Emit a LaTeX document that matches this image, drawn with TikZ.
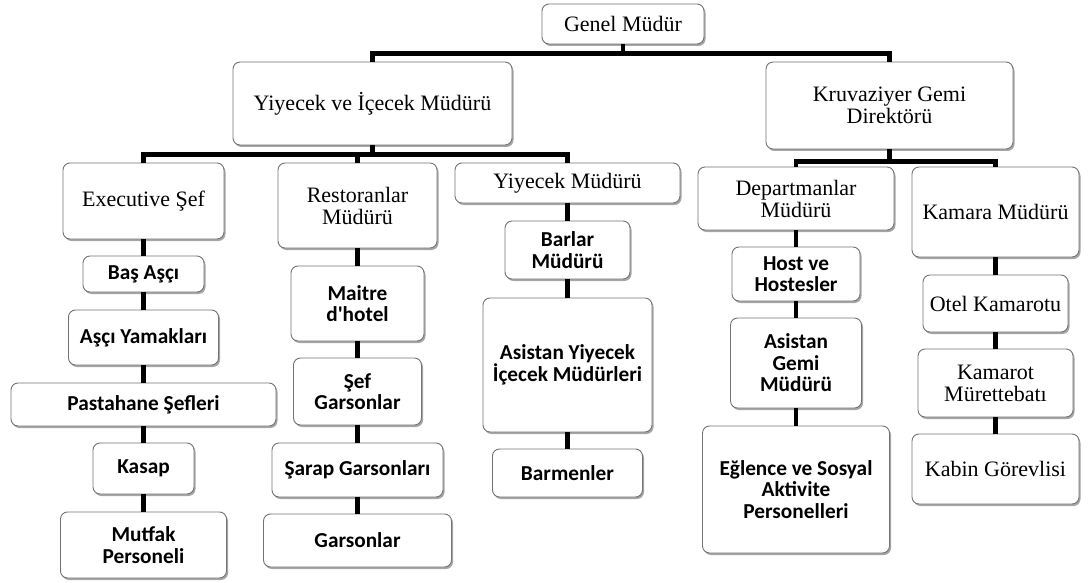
\documentclass[tikz,border=0pt]{standalone}
\usepackage{fontspec}
\setmainfont{Liberation Serif}
\newfontfamily\calib{Carlito}
\usetikzlibrary{shadows}
\tikzset{
  base/.style={draw=black!55, line width=0.9pt, fill=white, rounded corners=7pt, inner sep=0pt, align=center,
    drop shadow={shadow xshift=1.5pt, shadow yshift=-2pt, opacity=.35, fill=black}},
  sbox/.style={base, font=\fontsize{22}{22}\selectfont},
  bbox/.style={base, font=\calib\bfseries\fontsize{21.3}{21.5}\selectfont},
  conn/.style={draw=black, line width=4.5pt}
}
\begin{document}
\begin{tikzpicture}[x=1pt, y=-1pt]
\useasboundingbox (0,0) rectangle (1090,583);
% level 0/1
\node[sbox, minimum width=162pt, minimum height=40pt] (gm) at (623,24) {Genel Müdür};
\node[sbox, minimum width=279pt, minimum height=83pt] (yim) at (372.5,103.5) {Yiyecek ve İçecek Müdürü};
\node[sbox, minimum width=247pt, minimum height=87pt] (kgd) at (889.5,105.5) {Kruvaziyer Gemi\\Direktörü};
% level 2
\node[sbox, minimum width=161pt, minimum height=76pt] (es) at (143.5,201) {Executive Şef};
\node[sbox, minimum width=159pt, minimum height=85pt] (rm) at (357.5,205.5) {Restoranlar\\Müdürü};
\node[sbox, minimum width=225pt, minimum height=40pt] (ym) at (567.5,183) {Yiyecek Müdürü};
\node[sbox, minimum width=196pt, minimum height=63pt] (dm) at (796,198.5) {Departmanlar\\Müdürü};
\node[sbox, minimum width=167pt, minimum height=90pt] (km) at (995.5,212) {Kamara Müdürü};
% column 1
\node[bbox, minimum width=121pt, minimum height=36pt] (ba) at (143.5,274) {Baş Aşçı};
\node[bbox, minimum width=150pt, minimum height=55pt] (ay) at (143.5,337.5) {Aşçı Yamakları};
\node[bbox, minimum width=265pt, minimum height=43pt] (ps) at (143.5,404.5) {Pastahane Şefleri};
\node[bbox, minimum width=101pt, minimum height=51pt] (ks) at (143.5,468.5) {Kasap};
\node[bbox, minimum width=166pt, minimum height=66pt] (mp) at (143.5,545) {Mutfak\\Personeli};
% column 2
\node[bbox, minimum width=133pt, minimum height=75pt] (md) at (357.5,303.5) {Maitre\\d\textquotesingle hotel};
\node[bbox, minimum width=128pt, minimum height=67pt] (sg) at (357.5,391.5) {Şef\\Garsonlar};
\node[bbox, minimum width=171pt, minimum height=54pt] (sr) at (357.5,470) {Şarap Garsonları};
\node[bbox, minimum width=188pt, minimum height=53pt] (gs) at (357.5,540.5) {Garsonlar};
% column 3
\node[bbox, minimum width=125pt, minimum height=58pt] (bm) at (567.5,250) {Barlar\\Müdürü};
\node[bbox, minimum width=169pt, minimum height=134pt] (ai) at (567.5,365) {Asistan Yiyecek\\İçecek Müdürleri};
\node[bbox, minimum width=150pt, minimum height=48pt] (bn) at (567.5,473) {Barmenler};
% column 4
\node[bbox, minimum width=128pt, minimum height=54pt] (hh) at (796,274) {Host ve\\Hostesler};
\node[bbox, minimum width=131pt, minimum height=90pt] (ag) at (796,363) {Asistan\\Gemi\\Müdürü};
\node[bbox, minimum width=187pt, minimum height=127pt] (ep) at (796,489.5) {Eğlence ve Sosyal\\Aktivite\\Personelleri};
% column 5
\node[sbox, minimum width=145pt, minimum height=57pt] (ok) at (995.5,303.5) {Otel Kamarotu};
\node[sbox, minimum width=155pt, minimum height=68pt] (kmt) at (995.5,383) {Kamarot\\Mürettebatı};
\node[sbox, minimum width=167pt, minimum height=70pt] (kg) at (995.5,469) {Kabin Görevlisi};
% buses
\draw[conn] (gm.south) -- ++(0,9) -| (yim.north);
\draw[conn] (gm.south) -- ++(0,9) -| (kgd.north);
\draw[conn] (yim.south) -- ++(0,9) -| (es.north);
\draw[conn] (yim.south) -- ++(0,9) -| (rm.north);
\draw[conn] (yim.south) -- ++(0,9) -| (ym.north);
\draw[conn] (kgd.south) -- ++(0,12) -| (dm.north);
\draw[conn] (kgd.south) -- ++(0,12) -| (km.north);
% chains
\draw[conn] (es.south) -- (ba.north);
\draw[conn] (ba.south) -- (ay.north);
\draw[conn] (ay.south) -- (ps.north);
\draw[conn] (ps.south) -- (ks.north);
\draw[conn] (ks.south) -- (mp.north);
\draw[conn] (rm.south) -- (md.north);
\draw[conn] (md.south) -- (sg.north);
\draw[conn] (sg.south) -- (sr.north);
\draw[conn] (sr.south) -- (gs.north);
\draw[conn] (ym.south) -- (bm.north);
\draw[conn] (bm.south) -- (ai.north);
\draw[conn] (ai.south) -- (bn.north);
\draw[conn] (dm.south) -- (hh.north);
\draw[conn] (hh.south) -- (ag.north);
\draw[conn] (ag.south) -- (ep.north);
\draw[conn] (km.south) -- (ok.north);
\draw[conn] (ok.south) -- (kmt.north);
\draw[conn] (kmt.south) -- (kg.north);
\end{tikzpicture}
\end{document}
